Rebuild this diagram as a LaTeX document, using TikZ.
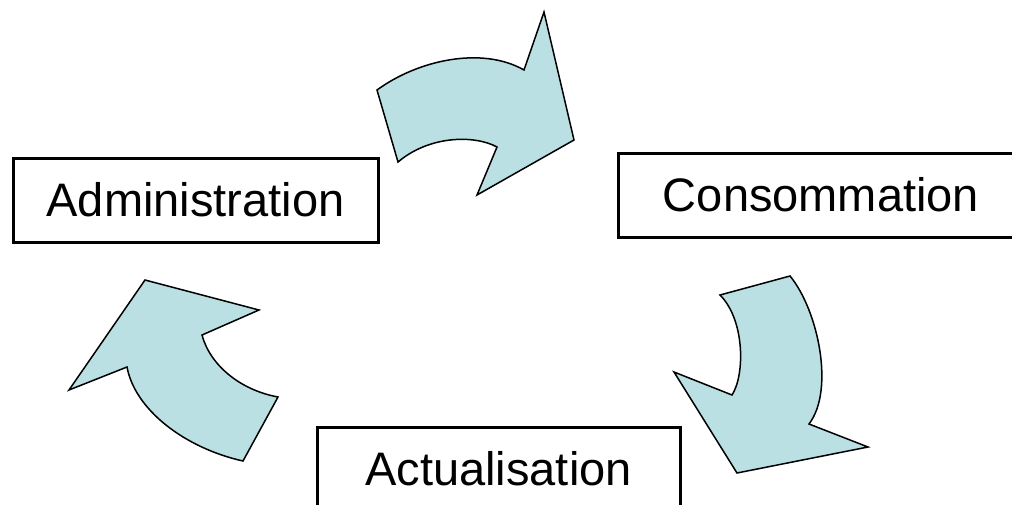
\documentclass[tikz,border=0pt]{standalone}
\usepackage{fontspec}
\setmainfont{Liberation Sans}
\usepackage{tikz}
\definecolor{blue1}{rgb}{0.73,0.88,0.89}
\tikzset{
  box/.style={draw, line width=3pt, minimum width=365pt, minimum height=84pt, inner sep=0pt, font=\fontsize{47}{56}\selectfont},
  curvearrow/.style={fill=blue1, draw=black, line width=1.5pt, line join=miter}
}

\begin{document}
\begin{tikzpicture}[x=1pt,y=-1pt]
\useasboundingbox (0,0) rectangle (1012,504);
\clip (0,0) rectangle (1012,504);
\node[box] (admin) at (195.5,200) {Administration};
\node[box, minimum width=406pt] (conso) at (821,195) {Consommation};
\node[box, minimum width=363pt] (actu) at (498.5,469) {Actualisation};
\draw[curvearrow] (377,90) .. controls (418,60) and (482,46) .. (524,70) -- (544,12) -- (574,140) -- (477,195) -- (497,147) .. controls (475,135) and (430,135) .. (398,162) -- cycle;
\draw[curvearrow] (790,276) .. controls (818,310) and (835,390) .. (809,424) -- (868,447) -- (737,473) -- (674,372) -- (732,395) .. controls (745,375) and (745,320) .. (720,295) -- cycle;
\draw[curvearrow] (145,280) -- (259,310) -- (202,335) .. controls (210,365) and (240,390) .. (278,397) -- (243,461) .. controls (185,448) and (135,410) .. (127,367) -- (69,390) -- cycle;
\end{tikzpicture}
\end{document}
